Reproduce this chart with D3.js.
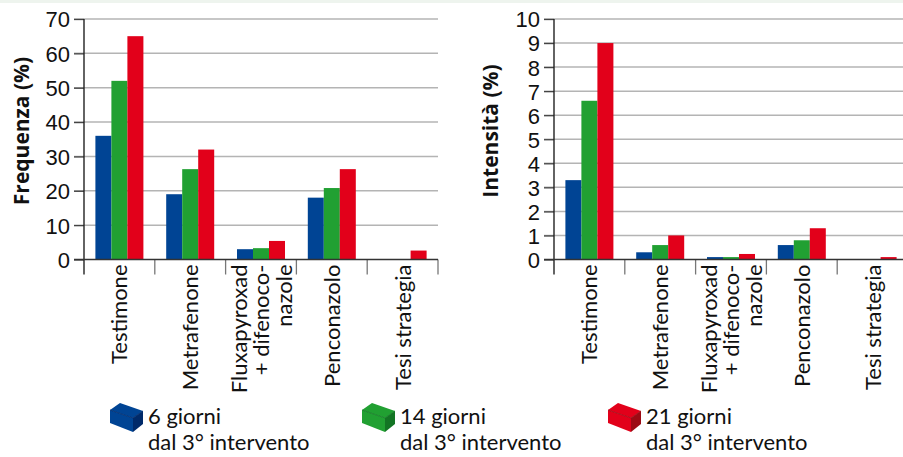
<!DOCTYPE html>
<html>
<head>
<meta charset="utf-8">
<script src="https://cdn.jsdelivr.net/npm/d3@7"></script>
<style>
  body { margin: 0; background: #fff; }
  svg { display: block; font-family: Lato, "Open Sans", sans-serif; }
  .tick-lbl { font-size: 22px; font-weight: 400; fill: #111; }
  .cat-lbl { font-size: 22px; font-weight: 400; fill: #111; }
  .y-title { font-family: "Open Sans", Lato, sans-serif; font-size: 21px; font-weight: 700; fill: #111; }
  .legend-lbl { font-size: 22px; font-weight: 400; fill: #111; }
</style>
</head>
<body>
<svg id="chart" width="903" height="457"></svg>
<script>
/********** the Data **********/
// treatments on the x axis (line breaks as in the original)
let categories = ["Testimone", "Metrafenone", "Fluxapyroxad\n+ difenoco-\nnazole", "Penconazolo", "Tesi strategia"];
let seriesNames = ["6 giorni", "14 giorni", "21 giorni"];
let seriesColors = ["#004494", "#21a032", "#e2001a"];
let seriesDark = ["#002a6a", "#137524", "#9c0a14"];

// frequenza (%) per treatment, one array per timepoint
let freq6 = [36, 19, 3, 18, 0];
let freq14 = [52, 26.3, 3.3, 20.8, 0];
let freq21 = [65, 32, 5.4, 26.3, 2.6];

// intensità (%) per treatment
let int6 = [3.3, 0.3, 0.1, 0.6, 0];
let int14 = [6.6, 0.6, 0.1, 0.8, 0];
let int21 = [9, 1, 0.23, 1.3, 0.1];

let freqTicks = [0, 10, 20, 30, 40, 50, 60, 70];
let intTicks = [0, 1, 2, 3, 4, 5, 6, 7, 8, 9, 10];

let svg = d3.select("#chart");

// thin tinted strip along the top edge
svg.append("rect")
  .attr("x", 0).attr("y", 0)
  .attr("width", 903).attr("height", 3)
  .attr("fill", "#eef4ee");

/********** drawPanel function **********/
function drawPanel(opts) {
  let rows = [opts.s1, opts.s2, opts.s3];

  let xScale = d3.scaleBand()
    .domain(categories)
    .range([opts.x0, opts.x1])
    .padding(0);

  let bw = xScale.bandwidth();
  let inner = d3.scaleBand()
    .domain(seriesNames)
    .range([bw / 2 - 24, bw / 2 + 24])
    .padding(0);

  let yScale = d3.scaleLinear()
    .domain([0, opts.max])
    .range([opts.y0, opts.y1]);

  let g = svg.append("g");

  // gridlines
  g.append("g")
    .selectAll("line")
    .data(opts.ticks.filter(t => t > 0))
    .enter().append("line")
      .attr("x1", opts.x0 - 10)
      .attr("x2", opts.clipRight)
      .attr("y1", d => yScale(d))
      .attr("y2", d => yScale(d))
      .attr("stroke", "#b4b4b4")
      .attr("stroke-width", 1.5);

  // tick labels via d3 axis, then restyle
  let yAxis = d3.axisLeft(yScale)
    .tickValues(opts.ticks)
    .tickSize(0)
    .tickPadding(0);

  let ax = g.append("g")
    .attr("transform", `translate(${opts.x0 - 14}, 0)`)
    .call(yAxis);
  ax.select(".domain").remove();
  ax.selectAll("text")
    .attr("class", "tick-lbl")
    .attr("font-family", null)
    .attr("font-size", null)
    .attr("fill", null)
    .attr("dy", "0.36em");
  // dark tick marks
  ax.selectAll(".tick").append("line")
    .attr("x1", 4).attr("x2", 14)
    .attr("stroke", "#444")
    .attr("stroke-width", 1.3);

  // category dividers below the baseline
  g.append("g")
    .selectAll("line")
    .data(categories.slice(1).map(c => xScale(c)).concat([opts.x1]))
    .enter().append("line")
      .attr("x1", d => d).attr("x2", d => d)
      .attr("y1", opts.y0).attr("y2", opts.y0 + 15)
      .attr("stroke", "#777")
      .attr("stroke-width", 1.3);

  // bars
  rows.forEach(function (vals, si) {
    g.append("g")
      .selectAll("rect")
      .data(vals.map((v, i) => ({cat: categories[i], v: v})).filter(d => d.v > 0))
      .enter().append("rect")
        .attr("x", d => xScale(d.cat) + inner(seriesNames[si]))
        .attr("width", inner.bandwidth())
        .attr("y", d => yScale(d.v))
        .attr("height", d => opts.y0 - yScale(d.v))
        .attr("fill", seriesColors[si]);
  });

  // y axis line + baseline
  g.append("line")
    .attr("x1", opts.x0).attr("x2", opts.x0)
    .attr("y1", opts.y1).attr("y2", opts.y0 + 15)
    .attr("stroke", "#222").attr("stroke-width", 1.4);
  g.append("line")
    .attr("x1", opts.x0 - 10).attr("x2", opts.clipRight)
    .attr("y1", opts.y0).attr("y2", opts.y0)
    .attr("stroke", "#333").attr("stroke-width", 1.6);

  // rotated category labels
  categories.forEach(function (c) {
    let lines = c.split("\n");
    let cx = xScale(c) + bw / 2;
    let lh = 22.5;
    lines.forEach(function (ln, li) {
      let bx = cx + 8 + (li - (lines.length - 1) / 2) * lh;
      g.append("text")
        .attr("class", "cat-lbl")
        .attr("transform", `translate(${bx}, ${opts.y0 + 5}) rotate(-90)`)
        .attr("text-anchor", "end")
        .text(ln);
    });
  });

  // axis title
  g.append("text")
    .attr("class", "y-title")
    .attr("transform", `translate(${opts.titleX}, ${opts.titleY}) rotate(-90)`)
    .attr("text-anchor", "middle")
    .text(opts.title);
}

drawPanel({
  s1: freq6, s2: freq14, s3: freq21,
  max: 70, ticks: freqTicks,
  x0: 84, x1: 438, clipRight: 438,
  y0: 259.5, y1: 19,
  title: "Frequenza (%)", titleX: 29, titleY: 131
});

drawPanel({
  s1: int6, s2: int14, s3: int21,
  max: 10, ticks: intTicks,
  x0: 554, x1: 908, clipRight: 903,
  y0: 259.5, y1: 19,
  title: "Intensità (%)", titleX: 498, titleY: 131
});

/********** legend **********/
let legendX = [110, 362, 608];

function brick(g, color, dark) {
  // small isometric block, top-left at (0,0)
  g.append("polygon") // top face
    .attr("points", "0,7 10,0 33,8 23,15")
    .attr("fill", color);
  g.append("polygon") // long face
    .attr("points", "0,7 23,15 23,29 0,20")
    .attr("fill", color);
  g.append("polygon") // end face
    .attr("points", "23,15 33,8 33,21 23,29")
    .attr("fill", dark);
  g.append("polyline")
    .attr("points", "0,7 23,15 33,8")
    .attr("fill", "none")
    .attr("stroke", dark).attr("stroke-width", 0.8);
}

seriesNames.forEach(function (name, i) {
  let lg = svg.append("g").attr("transform", `translate(${legendX[i]}, 403)`);
  brick(lg, seriesColors[i], seriesDark[i]);
  let t = lg.append("text")
    .attr("class", "legend-lbl")
    .attr("x", 38).attr("y", 21);
  t.append("tspan").attr("x", 38).text(name);
  t.append("tspan").attr("x", 38).attr("dy", 26).text("dal 3° intervento");
});
</script>
</body>
</html>
